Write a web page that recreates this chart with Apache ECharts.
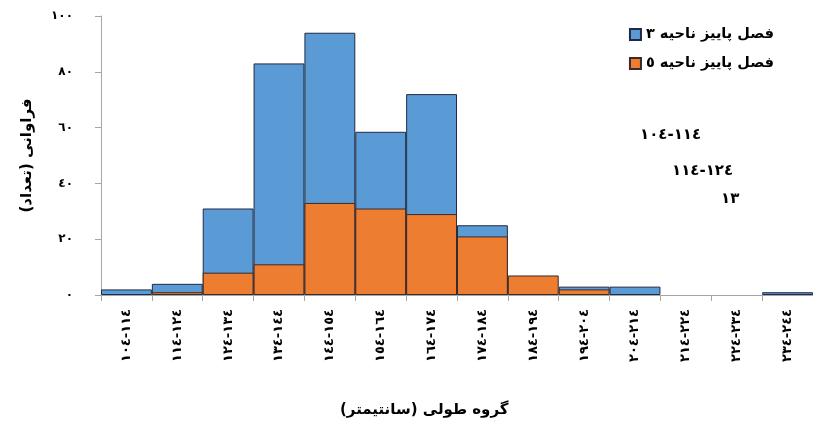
<!DOCTYPE html>
<html><head><meta charset="utf-8">
<script src="https://cdn.jsdelivr.net/npm/echarts@6/dist/echarts.min.js"></script>
<style>html,body{margin:0;padding:0;background:#fff}#c{width:813px;height:426px}</style>
</head><body><div id="c"></div>
<script>
const categories = ['١٠٤-١١٤','١١٤-١٢٤','١٢٤-١٣٤','١٣٤-١٤٤','١٤٤-١٥٤','١٥٤-١٦٤','١٦٤-١٧٤','١٧٤-١٨٤','١٨٤-١٩٤','١٩٤-٢٠٤','٢٠٤-٢١٤','٢١٤-٢٢٤','٢٢٤-٢٣٤','٢٣٤-٢٤٤'];
const region3 = [2, 4, 31, 83, 94, 58.5, 72, 25, 0, 3, 3, 0, 0, 1];
const region5 = [0, 1, 8, 11, 33, 31, 29, 21, 7, 2, 0, 0, 0, 0];
const yTickValues = [0, 20, 40, 60, 80, 100];
const yTickLabels = ['٠','٢٠','٤٠','٦٠','٨٠','١٠٠'];
const seriesNames = ['فصل پاییز ناحیه ٣','فصل پاییز ناحیه ٥'];
const yName = 'فراوانی (تعداد)';
const xName = 'گروه طولی (سانتیمتر)';
const notes = ['١٠٤-١١٤','١١٤-١٢٤','١٣'];

const LRM = '\u200E', RLM = '\u200F';
const ltr = s => LRM + s.replace('-', LRM + '-' + LRM) + LRM;
const nz = arr => arr.map(v => (v === 0 ? '-' : v));
const FONT = 'DejaVu Sans';

const chart = echarts.init(document.getElementById('c'));
chart.setOption({
  animation: false,
  textStyle: { fontFamily: FONT },
  grid: { left: 101, top: 16, width: 718, height: 279, containLabel: false },
  legend: {
    right: 34, top: 22, orient: 'vertical', itemGap: 14,
    itemWidth: 11, itemHeight: 11,
    textStyle: { fontFamily: FONT, fontWeight: 'bold', fontSize: 14.5, color: '#000' },
    data: seriesNames.map(n => ({ name: n, icon: 'rect' }))
  },
  xAxis: {
    type: 'category', data: categories, boundaryGap: true,
    axisLine: { lineStyle: { color: '#a6a6a6', width: 1 } },
    axisTick: { show: true, interval: 0, length: 6, lineStyle: { color: '#a6a6a6' } },
    axisLabel: { interval: 0, rotate: 90, margin: 14, fontSize: 13, fontWeight: 'bold', color: '#000', fontFamily: FONT, formatter: v => ltr(v) }
  },
  yAxis: {
    type: 'value', min: 0, max: 100, interval: 20,
    name: yName + RLM, nameLocation: 'middle', nameGap: 66, nameRotate: 90,
    nameTextStyle: { fontFamily: FONT, fontWeight: 'bold', fontSize: 15, color: '#000' },
    splitLine: { show: false },
    axisLine: { show: true, lineStyle: { color: '#a6a6a6', width: 1 } },
    axisTick: { show: true, length: 6, lineStyle: { color: '#a6a6a6' } },
    axisLabel: { margin: 28, fontSize: 12, fontWeight: 'bold', color: '#000', fontFamily: FONT,
      formatter: v => yTickLabels[yTickValues.indexOf(v)] }
  },
  series: [
    { name: seriesNames[0], type: 'bar', data: nz(region3), barGap: '-100%', barCategoryGap: 0,
      itemStyle: { color: '#5B9BD5', borderColor: '#1f2a44', borderWidth: 1 } },
    { name: seriesNames[1], type: 'bar', data: nz(region5), barGap: '-100%', barCategoryGap: 0,
      itemStyle: { color: '#ED7D31', borderColor: '#3a2a2a', borderWidth: 1 } }
  ],
  graphic: [
    { type: 'text', left: 340, top: 403, style: { text: xName + RLM, font: 'bold 15px "DejaVu Sans"', fill: '#000' } },
    { type: 'text', left: 640, top: 128, style: { text: ltr(notes[0]), font: 'bold 15px "DejaVu Sans"', fill: '#000' } },
    { type: 'text', left: 672, top: 164, style: { text: ltr(notes[1]), font: 'bold 15px "DejaVu Sans"', fill: '#000' } },
    { type: 'text', left: 721, top: 192, style: { text: notes[2], font: 'bold 15px "DejaVu Sans"', fill: '#000' } }
  ]
});
</script></body></html>
